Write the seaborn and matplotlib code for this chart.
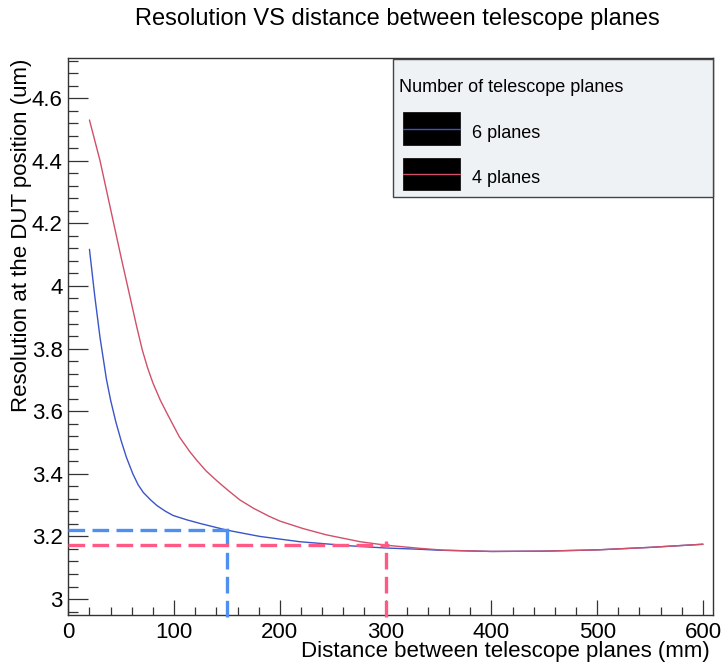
import numpy as np
import pandas as pd
import matplotlib
matplotlib.use("Agg")
import matplotlib.pyplot as plt
from matplotlib.patches import Rectangle
from matplotlib.lines import Line2D
from matplotlib.ticker import MultipleLocator, FuncFormatter
import seaborn as sns

# ---------------- data ----------------
x_6planes = [20, 25, 30, 36, 40, 45, 50, 55, 61, 66, 71, 78, 84, 92, 99, 112, 125,
             150, 181, 219, 266, 300, 332, 350, 400, 450, 500, 550, 600]
y_6planes = [4.117, 3.968, 3.835, 3.703, 3.635, 3.565, 3.505, 3.452, 3.40, 3.365,
             3.34, 3.316, 3.298, 3.28, 3.267, 3.253, 3.241, 3.22, 3.20, 3.183,
             3.170, 3.163, 3.159, 3.156, 3.152, 3.153, 3.157, 3.165, 3.175]

x_4planes = [20, 30, 40, 50, 60, 65, 70, 75, 80, 87, 93, 100, 105, 115, 121, 130,
             141, 150, 162, 175, 190, 200, 222, 244, 276, 300, 332, 355, 400, 450,
             500, 550, 600]
y_4planes = [4.53, 4.40, 4.245, 4.09, 3.94, 3.865, 3.795, 3.738, 3.69, 3.635,
             3.595, 3.55, 3.518, 3.47, 3.445, 3.41, 3.376, 3.35, 3.317, 3.29,
             3.264, 3.249, 3.225, 3.205, 3.183, 3.172, 3.162, 3.156, 3.152, 3.153,
             3.157, 3.165, 3.175]

series_labels = ["6 planes", "4 planes"]
ref_x = [150, 300]            # marked distances
ref_y = [3.221, 3.172]        # resolution at the marked distances
ref_top = [3.24, 3.185]       # top of the vertical marker lines

title = "Resolution VS distance between telescope planes"
xlabel = "Distance between telescope planes (mm)"
ylabel = "Resolution at the DUT position (um)"
legend_title = "Number of telescope planes"

df = pd.DataFrame({
    "x": x_6planes + x_4planes,
    "y": y_6planes + y_4planes,
    "series": [series_labels[0]] * len(x_6planes) + [series_labels[1]] * len(x_4planes),
})

# ---------------- style ----------------
sns.set_style("white")
plt.rcParams["font.family"] = ["Liberation Sans", "DejaVu Sans"]
plt.rcParams["text.color"] = "black"
plt.rcParams["xtick.color"] = "black"
plt.rcParams["ytick.color"] = "black"

curve_colors = {"6 planes": "#3a55c8", "4 planes": "#d0506a"}
ref_colors = ["#4f8ff0", "#ff5a86"]

W, H = 724, 670
fig = plt.figure(figsize=(W / 100, H / 100), dpi=100)
fig.patch.set_facecolor("white")

L, R, T, B = 68.3, 713, 58, 615
ax = fig.add_axes([L / W, 1 - B / H, (R - L) / W, (B - T) / H])

sns.lineplot(data=df, x="x", y="y", hue="series", palette=curve_colors,
             hue_order=series_labels, linewidth=1.0, legend=False, ax=ax,
             sort=False, estimator=None)

ax.set_xlim(0, 609.5)
ax.set_ylim(2.949, 4.728)

# reference dashed lines
for xr, yr, yt, c in zip(ref_x, ref_y, ref_top, ref_colors):
    ax.hlines(yr, 0, xr + 3, colors=c, linewidth=2.4, linestyles=(0, (5, 2.2)),
              clip_on=False, zorder=4)
    ax.vlines(xr, 2.943, yt, colors=c, linewidth=2.4, linestyles=(0, (5, 2.2)),
              clip_on=False, zorder=4)

# ticks: ROOT-like, inward, only bottom/left
ax.xaxis.set_major_locator(MultipleLocator(100))
ax.xaxis.set_minor_locator(MultipleLocator(20))
ax.yaxis.set_major_locator(MultipleLocator(0.2))
ax.yaxis.set_minor_locator(MultipleLocator(0.04))
ax.yaxis.set_major_formatter(FuncFormatter(lambda v, p: f"{v:g}"))
ax.xaxis.set_major_formatter(FuncFormatter(lambda v, p: f"{v:g}"))
ax.tick_params(axis="x", which="major", direction="in", length=10.8, width=0.9,
               color="#333333", labelcolor="black", labelsize=16, pad=5,
               top=False, bottom=True)
ax.tick_params(axis="x", which="minor", direction="in", length=5.8, width=0.9,
               color="#333333", top=False, bottom=True)
ax.tick_params(axis="y", which="major", direction="in", length=14.4, width=0.9,
               color="#333333", labelcolor="black", labelsize=16, pad=4,
               left=True, right=False)
ax.tick_params(axis="y", which="minor", direction="in", length=7.2, width=0.9,
               color="#333333", left=True, right=False)
for s in ax.spines.values():
    s.set_color("#333333")
    s.set_linewidth(1.0)
ax.set_xlabel("")
ax.set_ylabel("")

# titles
fig.text(397 / W, 1 - 25 / H, title, ha="center", va="baseline", fontsize=17,
         color="black")
fig.text(710 / W, 1 - 657 / H, xlabel, ha="right", va="baseline", fontsize=16,
         color="black")
fig.text(22 / W, 1 - 59 / H, ylabel, ha="center", va="top", rotation=90,
         fontsize=16, color="black")

# legend (ROOT TLegend look)
def fx(px):
    return px / W

def fy(py):
    return 1 - py / H

fig.patches.append(Rectangle((fx(392.7), fy(196.7)), fx(713) - fx(392.7),
                             fy(59) - fy(196.7), transform=fig.transFigure,
                             facecolor="#eef2f5", edgecolor="#444444", lw=1.0,
                             zorder=5))
fig.text(fx(399), fy(92), legend_title, ha="left", va="baseline", fontsize=13,
         color="black", zorder=6)
for (ytop, ybot, lab) in [(112, 145, series_labels[0]), (158, 190, series_labels[1])]:
    fig.patches.append(Rectangle((fx(403), fy(ybot)), fx(460) - fx(403),
                                 fy(ytop) - fy(ybot), transform=fig.transFigure,
                                 facecolor="black", edgecolor="black", lw=0.5,
                                 zorder=6))
    ym = (ytop + ybot) / 2
    fig.lines.append(Line2D([fx(403), fx(460)], [fy(ym), fy(ym)],
                            transform=fig.transFigure, color=curve_colors[lab],
                            lw=1.0, zorder=7))
    fig.text(fx(472), fy(ybot - 7), lab, ha="left", va="baseline", fontsize=13,
             color="black", zorder=7)

fig.savefig("out.png", dpi=100)
